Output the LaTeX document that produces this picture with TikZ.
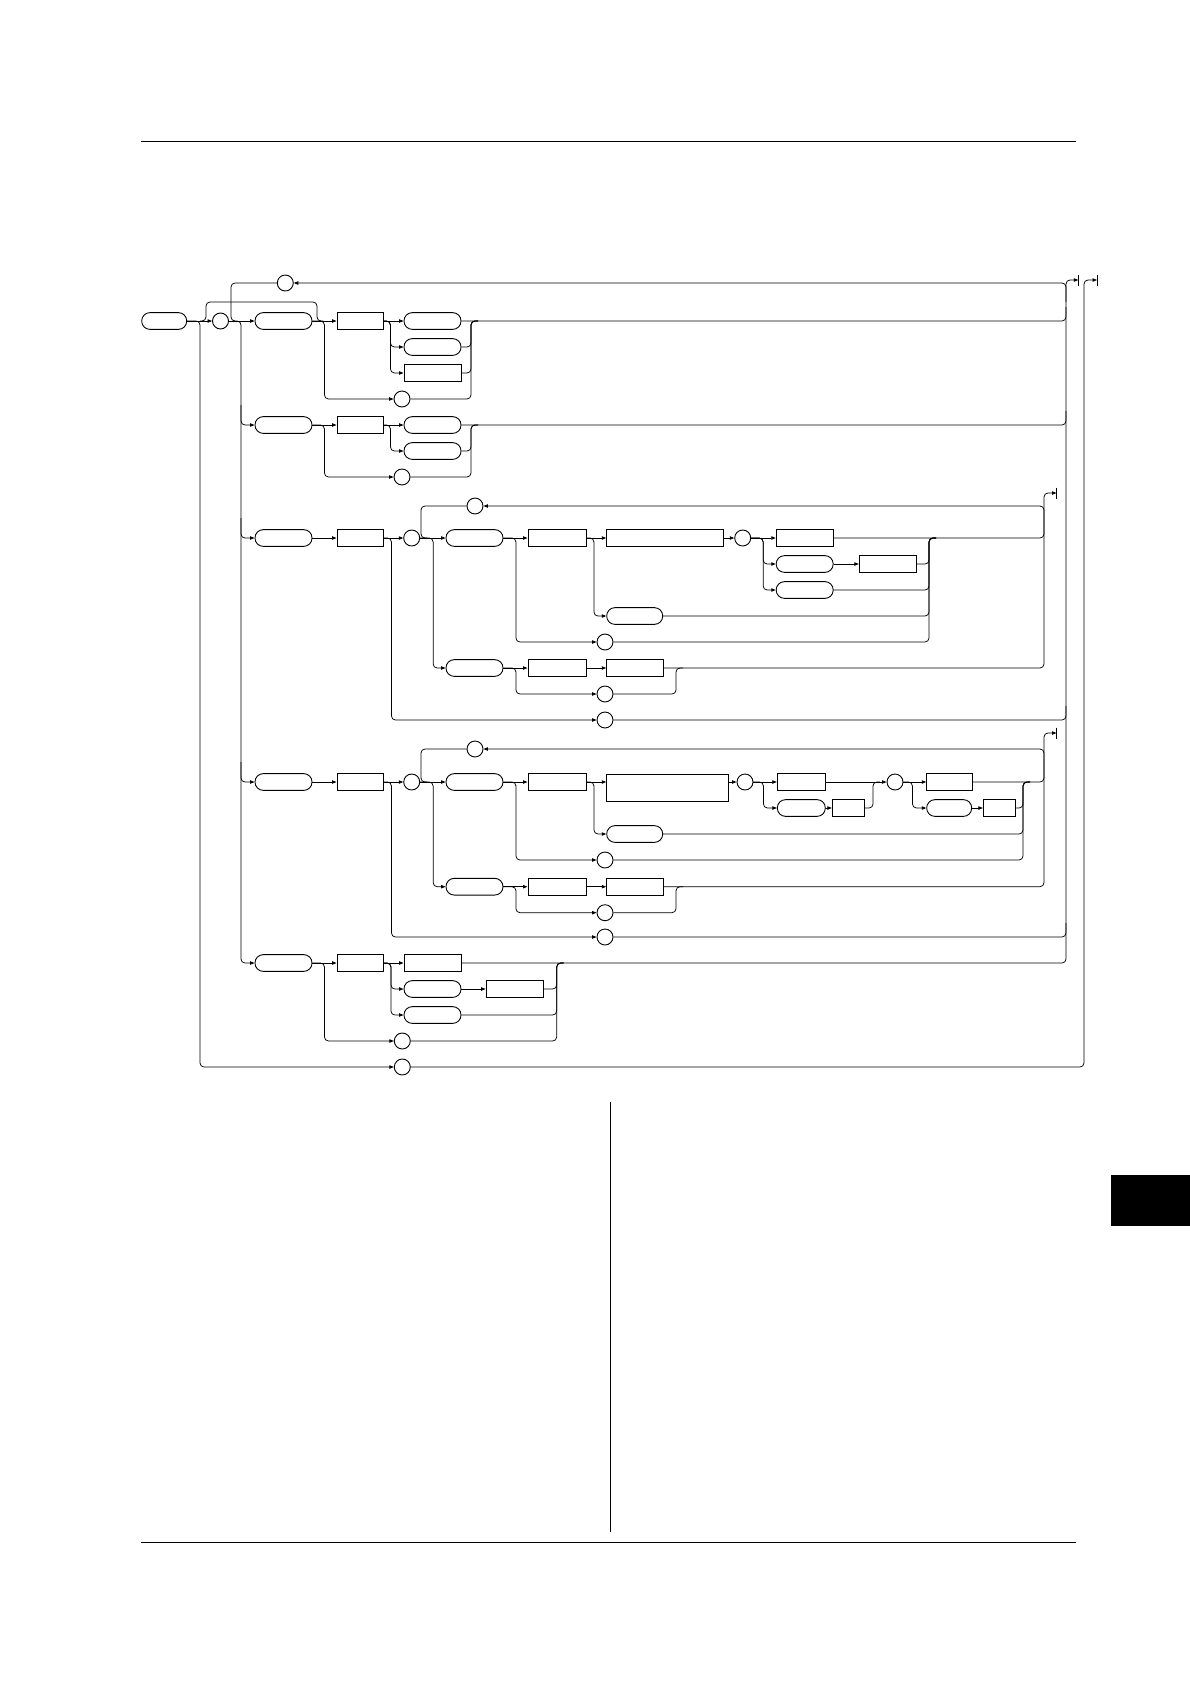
\documentclass[tikz,border=0pt]{standalone}
\usetikzlibrary{arrows.meta,calc}
\begin{document}
\begin{tikzpicture}[x=1pt,y=-1pt,
  ln/.style={line width=0.75pt},
  arr/.style={line width=0.75pt,-{Triangle[length=4.5pt,width=3.4pt]}},
  rc/.style={rounded corners=4pt},
  pill/.style={draw,line width=0.9pt,rectangle,rounded corners=8.2pt,minimum height=16.7pt,inner sep=0pt},
  box/.style={draw,line width=0.9pt,rectangle,minimum height=16.7pt,inner sep=0pt},
  circ/.style={draw,line width=0.9pt,circle,minimum size=16pt,inner sep=0pt}]
\useasboundingbox (0,0) rectangle (1190,1684);
% page furniture
\draw[line width=0.8pt] (141,141) -- (1076,141);
\draw[line width=0.8pt] (141,1542) -- (1076,1542);
\draw[line width=0.8pt] (610,1102) -- (610,1532);
\fill (1111,1175) rectangle (1190,1226);
% ---------- nodes ----------
\node[pill,minimum width=45pt] (E) at (164.2,321) {};
\node[circ] (C0) at (220.5,321) {};
\node[circ] (L0) at (285.3,283) {};
\foreach \n/\y in {1/321,2/425,3/538,4/782,5/963}{
  \node[pill,minimum width=57pt] (P\n) at (283.5,\y) {};
  \node[box,minimum width=46pt] (B\n) at (360,\y) {};
}
% row 1
\node[pill,minimum width=57pt] (S1a) at (432.5,321) {};
\node[pill,minimum width=57pt] (S1b) at (432.5,347) {};
\node[box,minimum width=57pt] (S1c) at (432.5,373) {};
\node[circ] (Z1) at (402,399) {};
% row 2
\node[pill,minimum width=57pt] (S2a) at (432.5,425) {};
\node[pill,minimum width=57pt] (S2b) at (432.5,451) {};
\node[circ] (Z2) at (402,477) {};
% row 3
\node[circ] (R3) at (411.7,538) {};
\node[circ] (L3) at (475,506) {};
\node[pill,minimum width=57pt] (A3) at (474.5,538) {};
\node[box,minimum width=58pt] (B3a) at (557,538) {};
\node[box,minimum width=116.6pt] (W3) at (665,538) {};
\node[pill,minimum width=56pt] (Q3) at (634.7,616) {};
\node[circ] (K3) at (605,642) {};
\node[circ] (C3) at (742.7,538) {};
\node[box,minimum width=57pt] (T3a) at (804.7,538) {};
\node[pill,minimum width=57pt] (T3b) at (804.7,564) {};
\node[box,minimum width=57.4pt] (T3c) at (888,564) {};
\node[pill,minimum width=57pt] (T3d) at (804.7,590) {};
\node[pill,minimum width=57pt] (A3b) at (474.5,668) {};
\node[box,minimum width=58pt] (B3b) at (557,668) {};
\node[box,minimum width=56.6pt] (D3b) at (635,668) {};
\node[circ] (K3b) at (605,694) {};
\node[circ] (Z3) at (605,720) {};
% row 4
\node[circ] (R4) at (411.7,782) {};
\node[circ] (L4) at (475,749) {};
\node[pill,minimum width=57pt] (A4) at (474.5,782) {};
\node[box,minimum width=58pt] (B4a) at (557,782) {};
\node[box,minimum width=121.6pt,minimum height=26.7pt] (W4) at (667.5,787.7) {};
\node[pill,minimum width=56pt] (Q4) at (634.7,834) {};
\node[circ] (K4) at (605,860) {};
\node[circ] (C4) at (745,782) {};
\node[box,minimum width=48pt] (T4a) at (801.3,782) {};
\node[pill,minimum width=48pt] (T4b) at (801.3,808) {};
\node[box,minimum width=32.4pt] (T4c) at (848.5,808) {};
\node[circ] (C4b) at (895,782) {};
\node[box,minimum width=45.6pt] (U4a) at (949.5,782) {};
\node[pill,minimum width=45pt] (U4b) at (949.2,808) {};
\node[box,minimum width=32.4pt] (U4c) at (999.5,808) {};
\node[pill,minimum width=57pt] (A4b) at (474.5,886.7) {};
\node[box,minimum width=58pt] (B4b) at (557,886.7) {};
\node[box,minimum width=56.6pt] (D4b) at (635,886.7) {};
\node[circ] (K4b) at (605,912.7) {};
\node[circ] (Z4) at (605,937) {};
% row 5
\node[box,minimum width=57pt] (S5a) at (432.5,963) {};
\node[pill,minimum width=57pt] (S5b) at (432.5,989) {};
\node[box,minimum width=57.3pt] (S5c) at (514.7,989) {};
\node[pill,minimum width=57pt] (S5d) at (432.5,1015) {};
\node[circ] (Z5) at (402.3,1041) {};
\node[circ] (Z0) at (402.3,1067) {};
% ---------- coordinates ----------
\coordinate (jL) at (200,321);
\coordinate (vL) at (200,1067);
\coordinate (vR) at (1084,280);
\coordinate (X1) at (1097,280);
\coordinate (tb1) at (206,302);
\coordinate (tb2) at (317,302);
\coordinate (lp0) at (231,321);
\coordinate (v2) at (241,963);
\coordinate (bus) at (1066,280);
\coordinate (X0) at (1078.3,280);
\coordinate (M1) at (471,321);
\coordinate (M2) at (471,425);
\coordinate (M3) at (929,538);
\coordinate (M3b) at (676,668);
\coordinate (bus3) at (1044,493);
\coordinate (X3) at (1056.5,493);
\coordinate (lp3) at (421,538);
\coordinate (M4a) at (873,782);
\coordinate (M4b) at (1023,782);
\coordinate (M4c) at (676,886.7);
\coordinate (bus4) at (1044,733);
\coordinate (X4) at (1056.5,733);
\coordinate (lp4) at (421,782);
\coordinate (M5) at (556.7,963);
% ---------- outer structure ----------
\draw[arr] (E.east) -- (C0.west);
\draw[arr,rc] (E.east) -| (vL) -- (Z0.west);
\draw[arr,rc] (Z0.east) -| (vR) -- (X1);
\draw[ln] ($(X1)+(0,-5.5)$) -- ($(X1)+(0,5.5)$);
\draw[ln,rc] (jL) -| (tb1) -- (tb2) |- ($(P1.east)+(11,0)$);
\draw[ln,rc] (L0.west) -| (lp0) -- ++(6,0);
\draw[arr] (C0.east) -- (P1.west);
\draw[arr,rc] ($(C0.east)+(8,0)$) -| (v2) -- (P5.west);
\foreach \r in {P2,P3,P4}{\draw[arr,rc] ($(v2|-\r.west)+(0,-20)$) |- (\r.west);}
\draw[arr,rc] (S5a.east) -| (bus) -- (X0);
\draw[ln] ($(X0)+(0,-5.5)$) -- ($(X0)+(0,5.5)$);
\draw[arr,rc] ($(bus)+(0,22)$) |- (L0.east);
\foreach \s in {S1a,S2a,Z3,Z4}{\draw[ln,rc] (\s.east) -| ($(bus|-\s.east)+(0,-14)$);}
% ---------- row 1 ----------
\draw[arr] (P1.east) -- (B1.west);
\draw[arr,rc] (P1.east) -- ++(12,0) |- (Z1.west);
\draw[arr] (B1.east) -- (S1a.west);
\draw[arr,rc] (B1.east) -- ++(7,0) |- (S1b.west);
\draw[arr,rc] (B1.east) -- ++(7,0) |- (S1c.west);
\foreach \s in {S1b,S1c,Z1}{\draw[ln,rc] (\s.east) -| (M1) -- ++(7,0);}
% ---------- row 2 ----------
\draw[arr] (P2.east) -- (B2.west);
\draw[arr,rc] (P2.east) -- ++(12,0) |- (Z2.west);
\draw[arr] (B2.east) -- (S2a.west);
\draw[arr,rc] (B2.east) -- ++(7,0) |- (S2b.west);
\foreach \s in {S2b,Z2}{\draw[ln,rc] (\s.east) -| (M2) -- ++(7,0);}
% ---------- row 3 ----------
\draw[arr] (P3.east) -- (B3.west);
\draw[arr] (B3.east) -- (R3.west);
\draw[arr,rc] (B3.east) -- ++(8,0) |- (Z3.west);
\draw[arr] (R3.east) -- (A3.west);
\draw[arr,rc] (R3.east) -- ++(13,0) |- (A3b.west);
\draw[ln,rc] (L3.west) -| (lp3) -- ++(6,0);
\draw[arr] (A3.east) -- (B3a.west);
\draw[arr,rc] (A3.east) -- ++(12.5,0) |- (K3.west);
\draw[arr] (B3a.east) -- (W3.west);
\draw[arr,rc] (B3a.east) -- ++(7.5,0) |- (Q3.west);
\draw[arr] (W3.east) -- (C3.west);
\draw[arr] (C3.east) -- (T3a.west);
\draw[arr,rc] (C3.east) -- ++(12,0) |- (T3b.west);
\draw[arr,rc] (C3.east) -- ++(12,0) |- (T3d.west);
\draw[arr] (T3b.east) -- (T3c.west);
\foreach \s in {T3c,T3d,Q3,K3}{\draw[ln,rc] (\s.east) -| (M3) -- ++(7,0);}
\draw[ln,rc] (T3a.east) -| ($(bus3|-T3a.east)+(0,-18)$);
\draw[arr,rc] ($(bus3|-T3a.east)+(0,-18)$) |- (L3.east);
\draw[arr] (A3b.east) -- (B3b.west);
\draw[arr] (B3b.east) -- (D3b.west);
\draw[arr,rc] (A3b.east) -- ++(12.5,0) |- (K3b.west);
\draw[ln,rc] (K3b.east) -| (M3b) -- ++(7,0);
\draw[arr,rc] (D3b.east) -| (bus3) -- (X3);
\draw[ln] ($(X3)+(0,-5.5)$) -- ($(X3)+(0,5.5)$);
% ---------- row 4 ----------
\draw[arr] (P4.east) -- (B4.west);
\draw[arr] (B4.east) -- (R4.west);
\draw[arr,rc] (B4.east) -- ++(8,0) |- (Z4.west);
\draw[arr] (R4.east) -- (A4.west);
\draw[arr,rc] (R4.east) -- ++(13,0) |- (A4b.west);
\draw[ln,rc] (L4.west) -| (lp4) -- ++(6,0);
\draw[arr] (A4.east) -- (B4a.west);
\draw[arr,rc] (A4.east) -- ++(12.5,0) |- (K4.west);
\draw[arr] (B4a.east) -- (B4a.east -| W4.west);
\draw[arr,rc] (B4a.east) -- ++(7.5,0) |- (Q4.west);
\draw[arr] (W4.east |- C4.west) -- (C4.west);
\draw[arr] (C4.east) -- (T4a.west);
\draw[arr,rc] (C4.east) -- ++(10,0) |- (T4b.west);
\draw[arr] (T4b.east) -- (T4c.west);
\draw[ln,rc] (T4c.east) -| (M4a) -- ++(7,0);
\draw[arr] (T4a.east) -- (C4b.west);
\draw[arr] (C4b.east) -- (U4a.west);
\draw[arr,rc] (C4b.east) -- ++(9,0) |- (U4b.west);
\draw[arr] (U4b.east) -- (U4c.west);
\foreach \s in {U4c,Q4,K4}{\draw[ln,rc] (\s.east) -| (M4b) -- ++(7,0);}
\draw[ln,rc] (U4a.east) -| ($(bus4|-U4a.east)+(0,-17)$);
\draw[arr,rc] ($(bus4|-U4a.east)+(0,-17)$) |- (L4.east);
\draw[arr] (A4b.east) -- (B4b.west);
\draw[arr] (B4b.east) -- (D4b.west);
\draw[arr,rc] (A4b.east) -- ++(12.5,0) |- (K4b.west);
\draw[ln,rc] (K4b.east) -| (M4c) -- ++(7,0);
\draw[arr,rc] (D4b.east) -| (bus4) -- (X4);
\draw[ln] ($(X4)+(0,-5.5)$) -- ($(X4)+(0,5.5)$);
% ---------- row 5 ----------
\draw[arr] (P5.east) -- (B5.west);
\draw[arr,rc] (P5.east) -- ++(12,0) |- (Z5.west);
\draw[arr] (B5.east) -- (S5a.west);
\draw[arr,rc] (B5.east) -- ++(7.5,0) |- (S5b.west);
\draw[arr,rc] (B5.east) -- ++(7.5,0) |- (S5d.west);
\draw[arr] (S5b.east) -- (S5c.west);
\foreach \s in {S5c,S5d,Z5}{\draw[ln,rc] (\s.east) -| (M5) -- ++(7,0);}
\end{tikzpicture}
\end{document}
